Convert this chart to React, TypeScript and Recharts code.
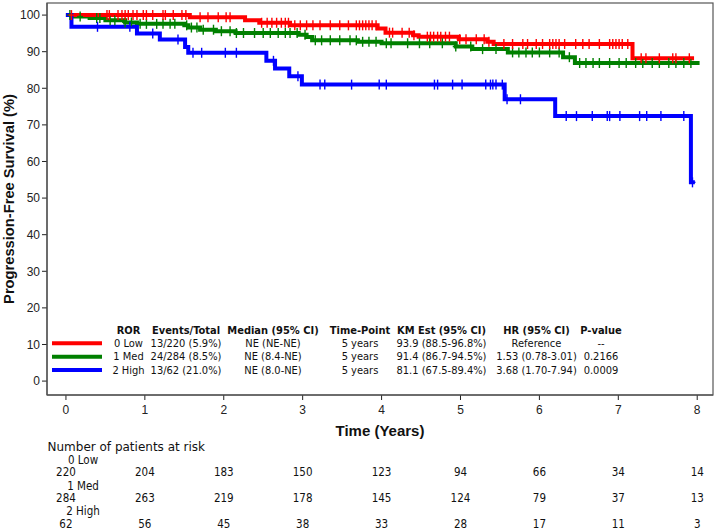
import React from "react";
import { ComposedChart, Line, Scatter, XAxis, YAxis } from "recharts";

// Kaplan-Meier steps: [time (years), survival (%)]
const lowSteps: [number, number][] = [
  [0, 100], [1.57, 99.4], [2.27, 98.6], [2.45, 97.9], [2.84, 97.2], [3.95, 96.3], [4.05, 95.2],
  [4.4, 94.5], [4.47, 94.1], [4.98, 93.4], [5.34, 92.7], [5.42, 92.1], [7.18, 88.2], [7.96, 88.2],
];
const medSteps: [number, number][] = [
  [0, 100], [0.1, 99.6], [0.3, 99.2], [0.5, 98.6], [0.75, 98.0], [0.9, 97.6], [1.5, 97.2], [1.55, 96.6],
  [1.7, 96.0], [1.9, 95.6], [2.15, 95.1], [2.95, 94.6], [3.05, 94.0], [3.12, 93.1], [3.7, 92.7], [4.0, 92.3],
  [4.94, 91.4], [5.15, 90.7], [5.6, 89.8], [6.3, 88.5], [6.45, 86.9], [8.03, 86.9],
];
const highSteps: [number, number][] = [
  [0, 100], [0.07, 96.8], [0.9, 95.0], [1.19, 93.3], [1.51, 91.3], [1.55, 89.7], [2.54, 87.5], [2.65, 85.4],
  [2.83, 83.3], [2.99, 81.0], [5.56, 77.0], [6.2, 72.4], [7.92, 54.3], [7.97, 54.3],
];

// censoring times (years)
const lowCensor = [
  0.07, 0.52, 0.55, 0.66, 0.71, 0.75, 0.79, 0.85, 0.9, 0.98, 1.02, 1.1, 1.23, 1.26, 1.36, 1.47, 1.52, 1.7, 1.8,
  1.93, 2.03, 2.08, 2.48, 2.55, 2.61, 2.67, 2.73, 2.78, 2.82, 2.9, 2.97, 3.05, 3.13, 3.22, 3.35, 3.47, 3.58, 3.68,
  3.72, 3.76, 3.8, 3.84, 3.88, 3.93, 4.1, 4.14, 4.26, 4.35, 4.41, 4.58, 4.62, 4.66, 4.71, 4.75, 4.81, 4.86, 4.99,
  5.07, 5.2, 5.3, 5.36, 5.55, 5.66, 5.79, 5.85, 5.96, 6.04, 6.13, 6.17, 6.21, 6.25, 6.32, 6.46, 6.55, 6.63, 6.76,
  6.89, 6.93, 6.97, 7.01, 7.05, 7.12, 7.29, 7.35, 7.52, 7.69, 7.73, 7.9,
];
const medCensor = [
  0.05, 0.18, 0.39, 0.43, 0.56, 0.62, 0.75, 0.83, 0.94, 1.02, 1.15, 1.23, 1.32, 1.38, 1.53, 1.59, 1.66, 1.74,
  1.87, 1.97, 2.08, 2.16, 2.25, 2.39, 2.5, 2.59, 2.69, 2.78, 2.84, 2.93, 3.03, 3.16, 3.24, 3.35, 3.47, 3.6, 3.68,
  3.76, 3.84, 3.93, 4.06, 4.12, 4.33, 4.48, 4.61, 4.77, 4.94, 5.13, 5.28, 5.45, 5.66, 5.74, 5.83, 5.91, 6.0, 6.13,
  6.25, 6.38, 6.51, 6.59, 6.68, 6.76, 6.89, 7.01, 7.1, 7.22, 7.31, 7.43, 7.52, 7.64, 7.73, 7.83, 7.92,
];
const highCensor = [
  0.4, 0.81, 1.1, 1.42, 1.61, 1.72, 2.02, 2.16, 2.63, 2.94, 3.22, 3.28, 3.62, 3.97, 4.06, 4.67, 4.71, 4.9, 5.02,
  5.32, 5.38, 5.41, 5.45, 5.53, 5.59, 5.76, 6.34, 6.47, 6.67, 6.86, 6.89, 7.02, 7.27, 7.36, 7.54, 7.83, 7.94,
];

const xTicks = [0, 1, 2, 3, 4, 5, 6, 7, 8];
const yTicks = [0, 10, 20, 30, 40, 50, 60, 70, 80, 90, 100];

const groups = ["0 Low", "1 Med", "2 High"];
const atRisk = [
  [220, 204, 183, 150, 123, 94, 66, 34, 14],
  [284, 263, 219, 178, 145, 124, 79, 37, 13],
  [62, 56, 45, 38, 33, 28, 17, 11, 3],
];

const tableHead = ["ROR", "Events/Total", "Median (95% CI)", "Time-Point", "KM Est (95% CI)", "HR (95% CI)", "P-value"];
const tableRows = [
  ["0 Low", "13/220 (5.9%)", "NE (NE-NE)", "5 years", "93.9 (88.5-96.8%)", "Reference", "--"],
  ["1 Med", "24/284 (8.5%)", "NE (8.4-NE)", "5 years", "91.4 (86.7-94.5%)", "1.53 (0.78-3.01)", "0.2166"],
  ["2 High", "13/62 (21.0%)", "NE (8.0-NE)", "5 years", "81.1 (67.5-89.4%)", "3.68 (1.70-7.94)", "0.0009"],
];

const COLORS = ["#ff0000", "#008000", "#0000ff"];
const X_DOMAIN: [number, number] = [-0.24, 8.2];
const Y_DOMAIN: [number, number] = [-3.8, 103.3];
const PLOT = { left: 47, top: 3, width: 666, height: 392 };

const CONDENSED = '"DejaVu Sans Condensed", "DejaVu Sans", sans-serif';
const ARIAL = '"Liberation Sans", Arial, sans-serif';

const toRows = (steps: [number, number][]) => steps.map(([t, s]) => ({ t, s }));
const survAt = (steps: [number, number][], t: number) => {
  let s = steps[0][1];
  for (const [st, sv] of steps) if (st <= t) s = sv;
  return s;
};
const censorRows = (steps: [number, number][], times: number[]) => times.map((t) => ({ t, s: survAt(steps, t) }));

const series = [
  { name: "med", steps: medSteps, censor: medCensor, color: COLORS[1] },
  { name: "low", steps: lowSteps, censor: lowCensor, color: COLORS[0] },
  { name: "high", steps: highSteps, censor: highCensor, color: COLORS[2] },
];

const xPos = (t: number) => PLOT.left + ((t - X_DOMAIN[0]) / (X_DOMAIN[1] - X_DOMAIN[0])) * PLOT.width;

const colCenters = [128.5, 186, 273, 360, 441.5, 536.5, 601];
const AXIS_TICK = { fontSize: 12, fill: "#222", fontFamily: ARIAL };

if (typeof document !== "undefined") document.body.style.margin = "0";

export default function App() {
  return (
    <div style={{ position: "relative", width: 716, height: 530, background: "#fff", overflow: "hidden" }}>
      <ComposedChart width={716} height={440} margin={{ top: 3, right: 3, left: 0, bottom: 0 }}>
        <XAxis
          type="number"
          dataKey="t"
          domain={X_DOMAIN}
          ticks={xTicks}
          allowDataOverflow
          height={45}
          tickSize={5}
          tickMargin={5}
          tick={AXIS_TICK}
          stroke="#222"
          label={{
            value: "Time (Years)",
            position: "insideBottom",
            offset: 4,
            style: { fontSize: 15, fontWeight: 700, fill: "#111", fontFamily: ARIAL },
          }}
        />
        <YAxis
          type="number"
          dataKey="s"
          domain={Y_DOMAIN}
          ticks={yTicks}
          allowDataOverflow
          width={47}
          tickSize={5}
          tickMargin={2}
          tick={AXIS_TICK}
          stroke="#222"
          label={{
            value: "Progression-Free Survival (%)",
            angle: -90,
            position: "insideLeft",
            offset: 9,
            style: { textAnchor: "middle", fontSize: 14.7, fontWeight: 700, fill: "#111", fontFamily: ARIAL },
          }}
        />
        {series.map((g) => (
          <Line
            key={g.name}
            data={toRows(g.steps)}
            dataKey="s"
            type="stepAfter"
            stroke={g.color}
            strokeWidth={4}
            dot={false}
            activeDot={false}
            isAnimationActive={false}
          />
        ))}
        {series.map((g) => (
          <Scatter
            key={g.name + "-c"}
            data={censorRows(g.steps, g.censor)}
            dataKey="s"
            isAnimationActive={false}
            shape={(p: any) => (
              <g>
                <line x1={p.cx} x2={p.cx} y1={p.cy - 5} y2={p.cy + 5} stroke={g.color} strokeWidth={1.4} />
                <line x1={p.cx - 3} x2={p.cx + 3} y1={p.cy} y2={p.cy} stroke={g.color} strokeWidth={1.4} />
              </g>
            )}
          />
        ))}
      </ComposedChart>

      <svg width={716} height={530} style={{ position: "absolute", left: 0, top: 0, pointerEvents: "none" }}>
        <rect x={PLOT.left} y={PLOT.top} width={PLOT.width} height={PLOT.height} fill="none" stroke="#555" strokeWidth={1.2} />
        {/* legend table inside the plot */}
        <g fontFamily={CONDENSED} style={{ fontStretch: "condensed" }} fontSize={11} fill="#111" textAnchor="middle">
          {tableHead.map((h, i) => (
            <text key={h} x={colCenters[i]} y={330} dominantBaseline="central" fontWeight={700}>
              {h}
            </text>
          ))}
          {tableRows.map((row, r) => (
            <g key={r}>
              <line x1={52} x2={102} y1={343.3 + r * 13.35} y2={343.3 + r * 13.35} stroke={COLORS[r]} strokeWidth={4} />
              {row.map((c, i) => (
                <text key={i} x={colCenters[i]} y={343.3 + r * 13.35} dominantBaseline="central">
                  {c}
                </text>
              ))}
            </g>
          ))}
        </g>
        {/* number at risk */}
        <text x={47.5} y={446.7} dominantBaseline="central" fontFamily='"DejaVu Sans", sans-serif' fontSize={12} fill="#111">
          Number of patients at risk
        </text>
        <g fontFamily={CONDENSED} style={{ fontStretch: "condensed" }} fontSize={11.5} fill="#111" textAnchor="middle">
          {groups.map((name, r) => (
            <g key={name}>
              <text x={83} y={460 + r * 25.5} dominantBaseline="central">
                {name}
              </text>
              {atRisk[r].map((n, i) => (
                <text key={i} x={xPos(xTicks[i])} y={472.3 + r * 25.85} dominantBaseline="central">
                  {n}
                </text>
              ))}
            </g>
          ))}
        </g>
      </svg>
    </div>
  );
}
